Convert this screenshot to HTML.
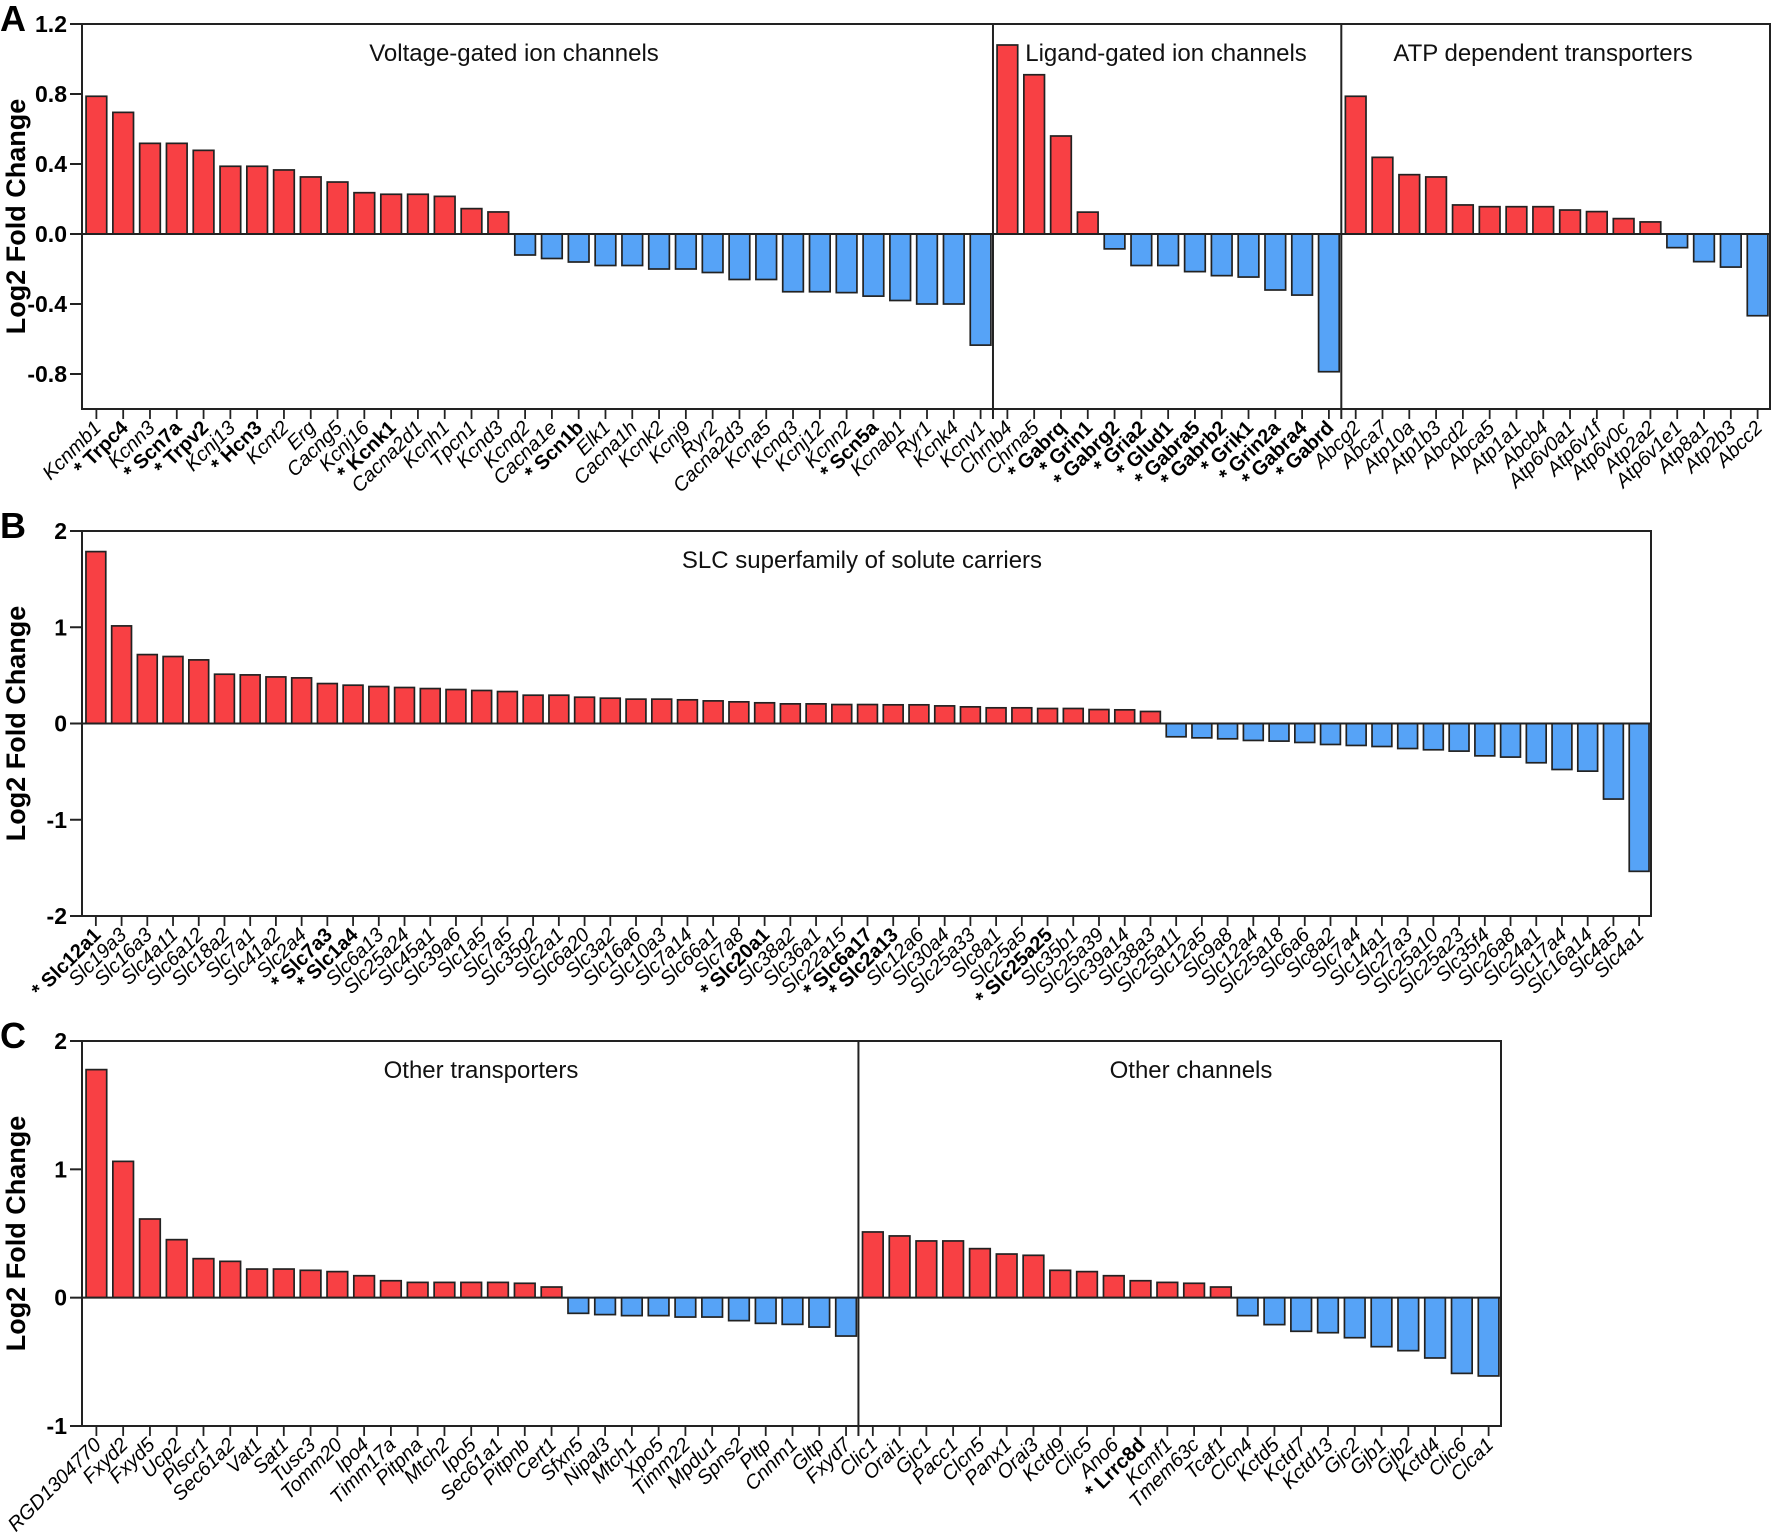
<!DOCTYPE html>
<html><head><meta charset="utf-8"><style>
html,body{margin:0;padding:0;background:#fff}
svg{display:block}
text{font-family:"Liberation Sans",Arial,sans-serif}
</style></head><body>
<svg id="fig" width="1772" height="1540" viewBox="0 0 1772 1540" xmlns="http://www.w3.org/2000/svg"></svg>
<script>
// ---------- Panel A data ----------
const aLabels = ["Kcnmb1","* Trpc4","Kcnn3","* Scn7a","* Trpv2","Kcnj13","* Hcn3","Kcnt2","Erg","Cacng5","Kcnj16","* Kcnk1","Cacna2d1","Kcnh1","Tpcn1","Kcnd3","Kcnq2","Cacna1e","* Scn1b","Elk1","Cacna1h","Kcnk2","Kcnj9","Ryr2","Cacna2d3","Kcna5","Kcnq3","Kcnj12","Kcnn2","* Scn5a","Kcnab1","Ryr1","Kcnk4","Kcnv1",
"Chrnb4","Chrna5","* Gabrq","* Grin1","* Gabrg2","* Gria2","* Glud1","* Gabra5","* Gabrb2","* Grik1","* Grin2a","* Gabra4","* Gabrd",
"Abcg2","Abca7","Atp10a","Atp1b3","Abcd2","Abca5","Atp1a1","Abcb4","Atp6v0a1","Atp6v1f","Atp6v0c","Atp2a2","Atp6v1e1","Atp8a1","Atp2b3","Abcc2"];
const aValues = [0.787,0.695,0.518,0.518,0.478,0.387,0.387,0.366,0.326,0.297,0.236,0.227,0.227,0.215,0.145,0.126,-0.12,-0.14,-0.16,-0.18,-0.18,-0.2,-0.2,-0.22,-0.26,-0.26,-0.33,-0.33,-0.335,-0.355,-0.38,-0.4,-0.4,-0.635,
1.08,0.91,0.56,0.125,-0.085,-0.18,-0.18,-0.215,-0.238,-0.246,-0.32,-0.349,-0.787,
0.787,0.438,0.339,0.326,0.166,0.156,0.156,0.156,0.137,0.128,0.088,0.069,-0.078,-0.158,-0.189,-0.467];
const aGroups = ["Voltage-gated ion channels","Ligand-gated ion channels","ATP dependent transporters"];
const aGroupSizes = [34,13,16];
const aTicks = [-0.8,-0.4,0,0.4,0.8,1.2];
const aTickLabels = ["-0.8","-0.4","0.0","0.4","0.8","1.2"];

// ---------- Panel B data ----------
const bLabels = ["* Slc12a1","Slc19a3","Slc16a3","Slc4a11","Slc6a12","Slc18a2","Slc7a1","Slc41a2","Slc2a4","* Slc7a3","* Slc1a4","Slc6a13","Slc25a24","Slc45a1","Slc39a6","Slc1a5","Slc7a5","Slc35g2","Slc2a1","Slc6a20","Slc3a2","Slc16a6","Slc10a3","Slc7a14","Slc66a1","Slc7a8","* Slc20a1","Slc38a2","Slc36a1","Slc22a15","* Slc6a17","* Slc2a13","Slc12a6","Slc30a4","Slc25a33","Slc8a1","Slc25a5","* Slc25a25","Slc35b1","Slc25a39","Slc39a14","Slc38a3","Slc25a11","Slc12a5","Slc9a8","Slc12a4","Slc25a18","Slc6a6","Slc8a2","Slc7a4","Slc14a1","Slc27a3","Slc25a10","Slc25a23","Slc35f4","Slc26a8","Slc24a1","Slc17a4","Slc16a14","Slc4a5","Slc4a1"];
const bValues = [1.786,1.014,0.716,0.696,0.661,0.512,0.505,0.484,0.474,0.415,0.398,0.384,0.374,0.363,0.353,0.343,0.332,0.294,0.294,0.273,0.263,0.253,0.253,0.246,0.235,0.225,0.215,0.204,0.204,0.197,0.197,0.194,0.194,0.183,0.173,0.163,0.163,0.156,0.156,0.145,0.142,0.125,-0.138,-0.149,-0.159,-0.176,-0.183,-0.197,-0.218,-0.228,-0.239,-0.26,-0.273,-0.287,-0.336,-0.349,-0.408,-0.478,-0.495,-0.785,-1.536];
const bGroups = ["SLC superfamily of solute carriers"];
const bGroupSizes = [61];
const bTicks = [-2,-1,0,1,2];
const bTickLabels = ["-2","-1","0","1","2"];

// ---------- Panel C data ----------
const cLabels = ["RGD1304770","Fxyd2","Fxyd5","Ucp2","Plscr1","Sec61a2","Vat1","Sat1","Tusc3","Tomm20","Ipo4","Timm17a","Pitpna","Mtch2","Ipo5","Sec61a1","Pitpnb","Cert1","Sfxn5","Nipal3","Mtch1","Xpo5","Timm22","Mpdu1","Spns2","Pltp","Cnnm1","Gltp","Fxyd7",
"Clic1","Orai1","Gjc1","Pacc1","Clcn5","Panx1","Orai3","Kctd9","Clic5","Ano6","* Lrrc8d","Kcmf1","Tmem63c","Tcaf1","Clcn4","Kctd5","Kctd7","Kctd13","Gjc2","Gjb1","Gjb2","Kctd4","Clic6","Clca1"];
const cValues = [1.777,1.062,0.613,0.452,0.304,0.283,0.223,0.223,0.213,0.203,0.171,0.132,0.119,0.119,0.119,0.119,0.112,0.083,-0.122,-0.132,-0.14,-0.14,-0.151,-0.151,-0.179,-0.2,-0.208,-0.229,-0.299,
0.512,0.481,0.442,0.442,0.382,0.34,0.33,0.213,0.203,0.171,0.132,0.119,0.112,0.083,-0.14,-0.21,-0.262,-0.273,-0.312,-0.382,-0.413,-0.47,-0.59,-0.61];
const cGroups = ["Other transporters","Other channels"];
const cGroupSizes = [29,24];
const cTicks = [-1,0,1,2];
const cTickLabels = ["-1","0","1","2"];

const NS = "http://www.w3.org/2000/svg";
const svg = document.getElementById("fig");
function mk(tag, attrs, parent, txt) {
  const e = document.createElementNS(NS, tag);
  for (const k in attrs) e.setAttribute(k, attrs[k]);
  if (txt !== undefined) e.textContent = txt;
  (parent || svg).appendChild(e);
  return e;
}

function drawPanel(p) {
  const g = mk("g", {});
  
  
  const n = p.labels.length;
  const band = (p.right - p.left) / n;
  const y = v => p.bottom - (v - p.min) / (p.max - p.min) * (p.bottom - p.top);
  const xc = i => p.left + (i + 0.5) * band + 1;
  const L = mk("text", {x: 0, y: p.top + 7, "font-size": 36, "font-weight": "bold"}, g, p.id);
  
  
  const yt = mk("text", {x: 0, y: 0, "font-size": 27, "font-weight": "bold", "text-anchor": "middle",
    transform: "translate(25," + ((p.top + p.bottom) / 2) + ") rotate(-90)"}, g, "Log2 Fold Change");
  
  
  p.ticks.forEach((t, i) => {
    const ty = y(t);
    const tk = mk("line", {x1: p.left - 12, x2: p.left, y1: ty, y2: ty, stroke: "#222", "stroke-width": 2}, g);
    
    
    const tl = mk("text", {x: p.left - 15, y: ty + 8, "font-size": 23, "font-weight": "bold", "text-anchor": "end"}, g, p.tickLabels[i]);
    
    
  });
  const zy = y(0);
  p.values.forEach((v, i) => {
    const bw = band * 0.77;
    const yy = y(v);
    const r = mk("rect", {x: xc(i) - bw / 2, y: Math.min(yy, zy), width: bw, height: Math.abs(zy - yy),
      fill: v >= 0 ? "#f84044" : "#56a3f7", stroke: "#222", "stroke-width": 1.7}, g);
    
    
  });
  const fr = mk("rect", {x: p.left, y: p.top, width: p.right - p.left, height: p.bottom - p.top, fill: "none", stroke: "#222", "stroke-width": 2}, g);
  
  
  const zl = mk("line", {x1: p.left, x2: p.right, y1: zy, y2: zy, stroke: "#222", "stroke-width": 2}, g);
  
  
  let start = 0;
  p.groupSizes.forEach((s, gi) => {
    const gx0 = p.left + start * band;
    if (start > 0) {
      const dv = mk("line", {x1: gx0, x2: gx0, y1: p.top, y2: p.bottom + 10, stroke: "#222", "stroke-width": 2}, g);
      
      
    }
    const gt = mk("text", {x: p.titleX[gi], y: p.top + 37, "font-size": 24, "text-anchor": "middle", fill: "#111"}, g, p.groups[gi]);
    
    
    start += s;
  });
  p.labels.forEach((lab, i) => {
    const x = xc(i);
    const tk = mk("line", {x1: x, x2: x, y1: p.bottom, y2: p.bottom + 10, stroke: "#222", "stroke-width": 1.8}, g);
    
    
    const bold = lab.startsWith("*");
    const t = mk("text", {x: 0, y: 0, "font-size": 20, "font-style": bold ? "normal" : "italic", "font-weight": bold ? "bold" : "normal",
      "text-anchor": "end", transform: "translate(" + (x + 6) + "," + (p.bottom + 20) + ") rotate(-45)"}, g, lab);
    
    
  });
}

drawPanel({id: "A", labels: aLabels, values: aValues, groups: aGroups, groupSizes: aGroupSizes, ticks: aTicks, tickLabels: aTickLabels,
  titleX: [514, 1166, 1543], min: -1.0, max: 1.2, left: 82, right: 1770, top: 24, bottom: 409});
drawPanel({id: "B", labels: bLabels, values: bValues, groups: bGroups, groupSizes: bGroupSizes, ticks: bTicks, tickLabels: bTickLabels,
  titleX: [862], min: -2, max: 2, left: 82, right: 1651, top: 531, bottom: 916});
drawPanel({id: "C", labels: cLabels, values: cValues, groups: cGroups, groupSizes: cGroupSizes, ticks: cTicks, tickLabels: cTickLabels,
  titleX: [481, 1191], min: -1, max: 2, left: 82, right: 1501, top: 1041, bottom: 1426});
</script>
</body></html>
